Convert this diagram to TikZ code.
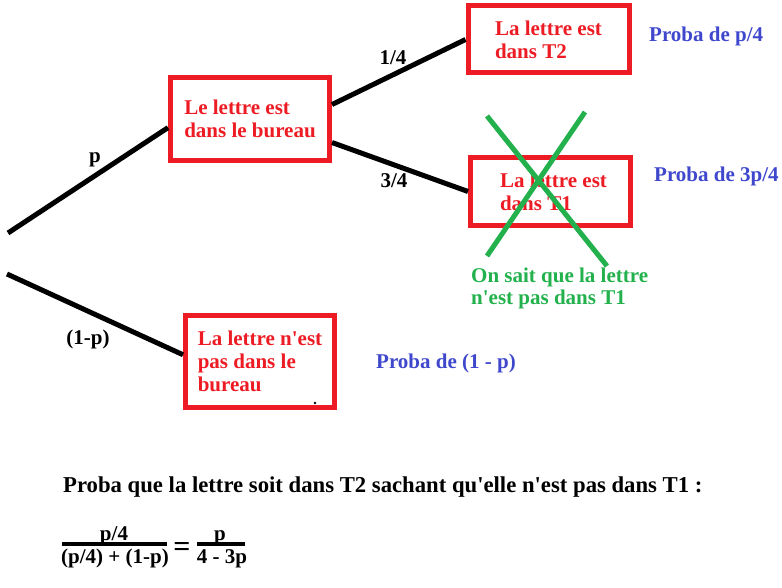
\documentclass[tikz,border=0pt]{standalone}
\usepackage{fontspec}
\setmainfont{Liberation Serif}
\definecolor{boxred}{HTML}{ED1C24}
\definecolor{probablue}{HTML}{3F48CC}
\definecolor{crossgreen}{HTML}{22B14C}
\newcommand{\apos}{\textquotesingle}
\tikzset{
	every node/.style={font=\bfseries\fontsize{21}{23}\selectfont, inner sep=0pt},
	boite/.style={draw=boxred, line width=5pt, text=boxred, align=left, rectangle},
	proba/.style={text=probablue, anchor=base west},
	etiquette/.style={anchor=base},
}
\begin{document}
		\begin{tikzpicture}[x=1pt,y=-1pt]
			\useasboundingbox (0,0) rectangle (782,588);
			\begin{scope}[every node/.append style={boite}]
				\node (bureau)[minimum width=159pt, minimum height=83pt] at (250,119) {Le lettre est\\dans le bureau};
				\node (T2)[minimum width=161pt, minimum height=67pt] at (548.5,39.5) {La lettre est\\dans T2\hspace*{35pt}};
				\node (T1)[minimum width=160pt, minimum height=68pt] at (550.5,191.5) {\hspace*{6pt}La lettre est\\\hspace*{6pt}dans T1\hspace*{35pt}};
				\node (pasbureau)[minimum width=149pt, minimum height=92pt] at (260,361.5) {La lettre n\apos est\\pas dans le\\bureau\hspace*{6pt}};
			\end{scope}
			\coordinate (o1) at (8,233);
			\coordinate (o2) at (7,274);
			\begin{scope}[every edge/.style={draw, line width=5pt}]
				\path [-] (o1) edge node {} (bureau.186);
				\path [-] (o2) edge node {} (pasbureau.175);
				\path [-] (bureau.10) edge node {} (T2.west);
				\path [-] (bureau.344) edge node {} (T1.west);
			\end{scope}
			% probabilites sur les branches
			\node (lp)[etiquette] at (95,163) {p};
			\node (lq)[etiquette] at (88,344) {(1-p)};
			\node (l14)[etiquette] at (393,65) {1/4};
			\node (l34)[etiquette] at (394,188) {3/4};
			% probas des feuilles
			\node (pT2)[proba] at (649,42) {Proba de p/4};
			\node (pT1)[proba] at (654,182) {Proba de 3p/4};
			\node (pnb)[proba] at (376,368) {Proba de (1 - p)};
			% T1 barre
			\draw [crossgreen, line width=5pt] (487,116) -- (607,266);
			\draw [crossgreen, line width=5pt] (585,112) -- (487,256);
			\node (vert1)[text=crossgreen, anchor=base west] at (471,283) {On sait que la lettre};
			\node (vert2)[text=crossgreen, anchor=base west] at (471,305) {n\apos est pas dans T1};
			\fill (315,403) circle (1.3pt);
			% calcul
			\node (question)[anchor=base west, font=\bfseries\fontsize{22.7}{25}\selectfont] at (63,492) {Proba que la lettre soit dans T2 sachant qu\apos elle n\apos est pas dans T1 :};
			\node (num1)[etiquette] at (114,540) {p/4};
			\node (den1)[etiquette] at (115,563) {(p/4) + (1-p)};
			\node (egal)[font=\bfseries\fontsize{30}{30}\selectfont] at (182,549) {=};
			\node (num2)[etiquette] at (220,540) {p};
			\node (den2)[etiquette] at (222,563) {4 - 3p};
			\draw [line width=4pt] (62,544) -- (167,544);
			\draw [line width=4pt] (197,544) -- (245,544);
		\end{tikzpicture}
\end{document}
